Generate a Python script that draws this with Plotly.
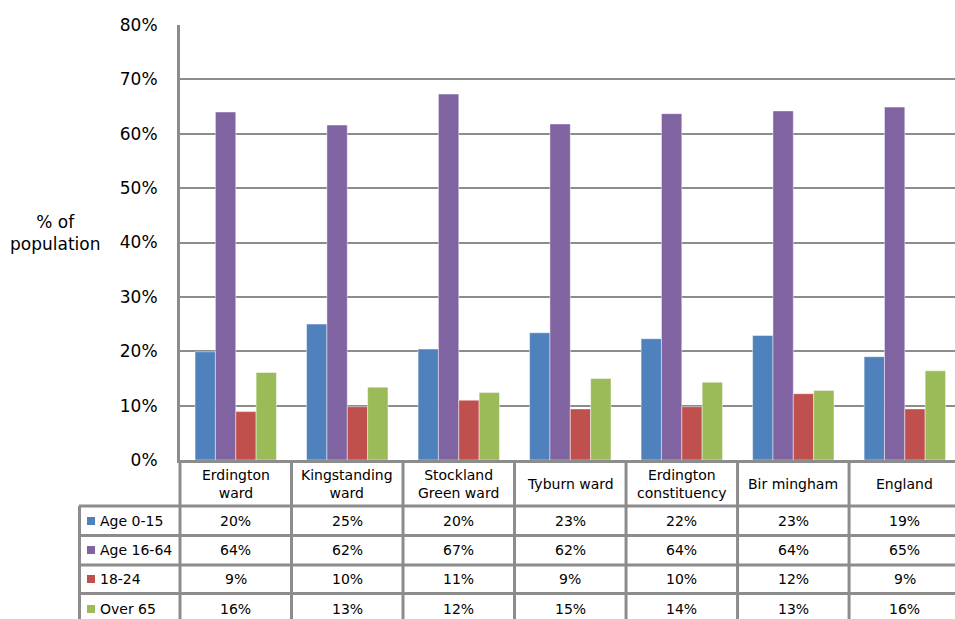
import plotly.graph_objects as go

categories = ["Erdington ward", "Kingstanding ward", "Stockland Green ward", "Tyburn ward",
              "Erdington constituency", "Birmingham", "England"]
header_labels = ["Erdington<br>ward", "Kingstanding<br>ward", "Stockland<br>Green ward", "Tyburn ward",
                 "Erdington<br>constituency", "Bir mingham", "England"]
series_names = ["Age 0-15", "Age 16-64", "18-24", "Over 65"]
age_0_15 = [19.9, 25.0, 20.4, 23.4, 22.3, 22.9, 19.0]
age_16_64 = [64.0, 61.6, 67.3, 61.8, 63.7, 64.2, 64.9]
age_18_24 = [8.9, 9.8, 11.0, 9.4, 9.8, 12.2, 9.4]
over_65 = [16.1, 13.4, 12.4, 15.0, 14.3, 12.8, 16.4]
y_ticks = [0, 10, 20, 30, 40, 50, 60, 70, 80]

series_values = [age_0_15, age_16_64, age_18_24, over_65]
colors = ["#4F81BD", "#8064A2", "#C0504D", "#9BBB59"]

W, H = 955, 619
L, R, T = 180, 0, 25
B = H - 460
PW = W - L - R
PH = H - T - B
FONT = "DejaVu Sans"
LINE = "#8c8c8c"


def py(p):  # pixel y -> paper y
    return (H - B - p) / PH


def px(p):  # pixel x -> paper x
    return (p - L) / PW


fig = go.Figure()
for name, vals, c in zip(series_names, series_values, colors):
    fig.add_trace(go.Bar(
        x=categories, y=[v / 100 for v in vals], name=name,
        marker=dict(color=c, line=dict(color="rgba(255,255,255,0.45)", width=1)),
        showlegend=False, hoverinfo="skip"))

shapes = []
annotations = []

# table horizontal lines
row_px = [506, 535.5, 565, 593.5]
for yp in row_px:
    shapes.append(dict(type="line", xref="paper", yref="paper", x0=px(79), x1=px(970),
                       y0=py(yp), y1=py(yp), line=dict(color=LINE, width=3), layer="above"))
# table vertical lines
shapes.append(dict(type="line", xref="paper", yref="paper", x0=px(79.5), x1=px(79.5),
                   y0=py(506), y1=py(640), line=dict(color=LINE, width=3)))
shapes.append(dict(type="line", xref="paper", yref="paper", x0=0, x1=0,
                   y0=py(460), y1=py(640), line=dict(color=LINE, width=3)))
for k in range(len(categories)):
    shapes.append(dict(type="line", xref="x", yref="paper", x0=k + 0.5, x1=k + 0.5,
                       y0=py(460), y1=py(640), line=dict(color=LINE, width=3)))

# header labels
for cat, lab in zip(categories, header_labels):
    annotations.append(dict(x=cat, y=py(484), xref="x", yref="paper", text=lab,
                            showarrow=False, font=dict(family=FONT, size=14, color="#000"),
                            xanchor="center", yanchor="middle", align="center"))

# rows
row_centers = [521, 550, 579, 609]
for name, vals, c, yc in zip(series_names, series_values, colors, row_centers):
    shapes.append(dict(type="rect", xref="paper", yref="paper", x0=px(87), x1=px(95),
                       y0=py(yc + 4), y1=py(yc - 4), fillcolor=c, line=dict(width=0)))
    annotations.append(dict(x=px(98), y=py(yc), xref="paper", yref="paper", text=name,
                            showarrow=False, font=dict(family=FONT, size=14, color="#000"),
                            xanchor="left", yanchor="middle"))
    for cat, v in zip(categories, vals):
        annotations.append(dict(x=cat, y=py(yc), xref="x", yref="paper", text=f"{v:.0f}%",
                                showarrow=False, font=dict(family=FONT, size=14, color="#000"),
                                xanchor="center", yanchor="middle"))

# y title
annotations.append(dict(x=px(55), y=py(233), xref="paper", yref="paper",
                        text="% of<br>population", showarrow=False,
                        font=dict(family=FONT, size=17, color="#000"),
                        xanchor="center", yanchor="middle", align="center"))

fig.update_layout(
    width=W, height=H, margin=dict(l=L, r=R, t=T, b=B),
    paper_bgcolor="white", plot_bgcolor="white",
    barmode="group", bargap=0.27, bargroupgap=0,
    shapes=shapes, annotations=annotations,
    font=dict(family=FONT, color="#000"),
    xaxis=dict(range=[-0.5, 6.45], showticklabels=False, showgrid=False, zeroline=False,
               showline=True, linecolor=LINE, linewidth=3, ticks=""),
    yaxis=dict(range=[0, 0.8], tickvals=[t / 100 for t in y_ticks],
               ticktext=[f"{t}%" for t in y_ticks],
               showgrid=True, gridcolor=LINE, gridwidth=2, zeroline=False,
               showline=True, linecolor=LINE, linewidth=3, ticks="",
               ticklabelstandoff=16, tickfont=dict(family=FONT, size=17, color="#000")),
)

fig.write_html("out.html", config={"displayModeBar": False},
               post_script="document.body.style.margin='0';document.body.style.overflow='hidden';")
